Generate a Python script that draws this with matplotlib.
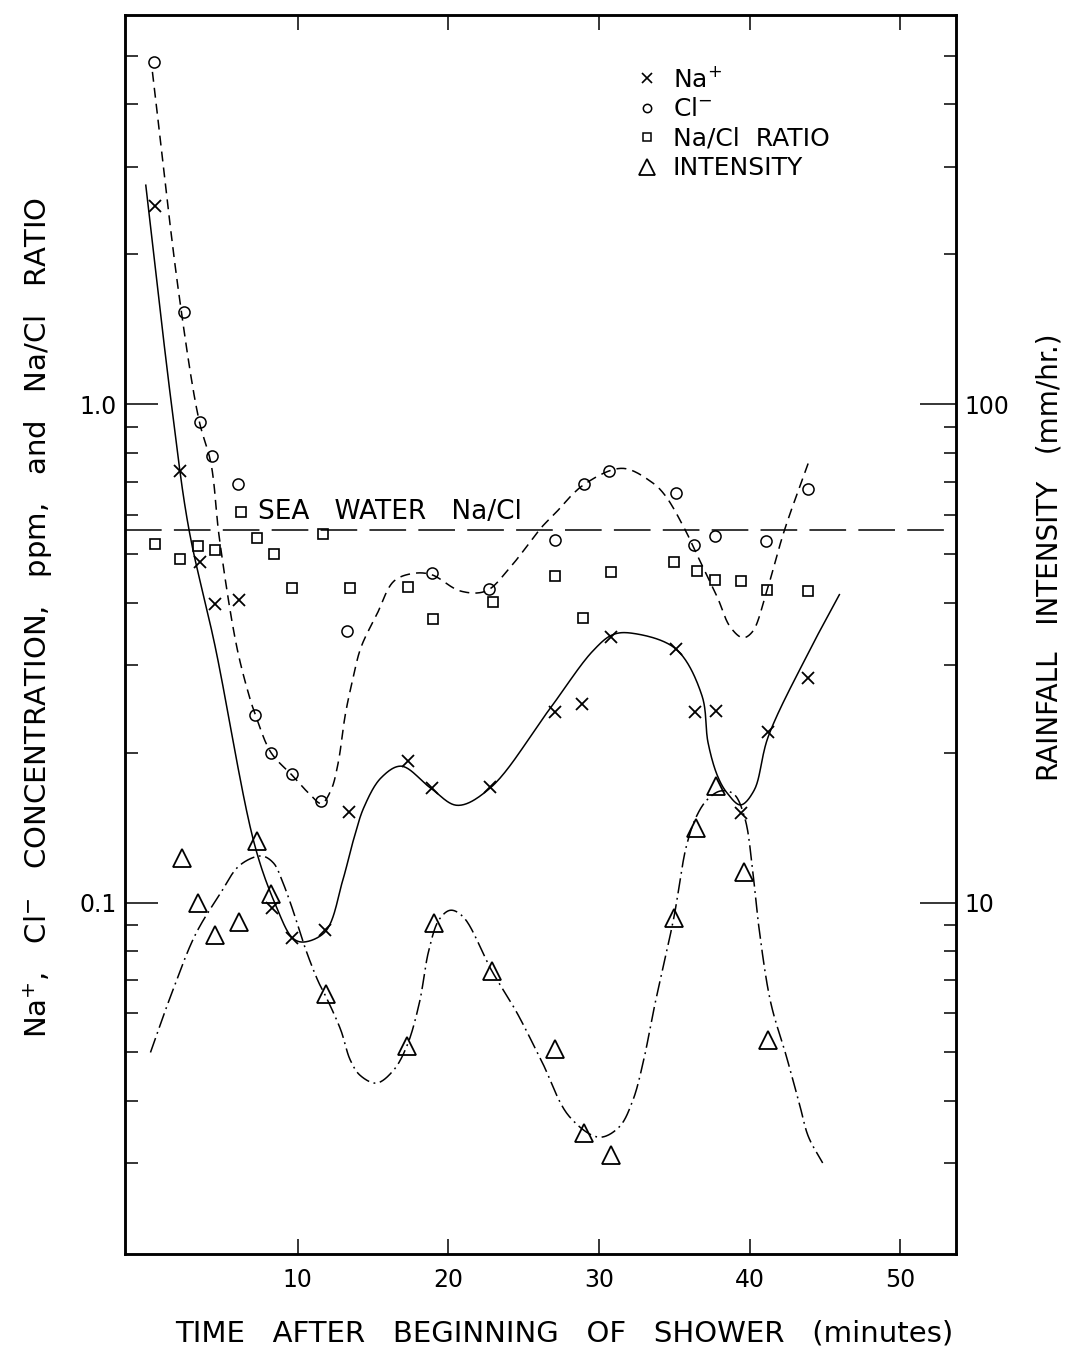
import numpy as np
import matplotlib
matplotlib.use("Agg")
import matplotlib.pyplot as plt
from matplotlib.lines import Line2D
from matplotlib.ticker import NullFormatter

# ---------------------------------------------------------------------------
# Measured samples (time after beginning of shower, minutes)
# ---------------------------------------------------------------------------
na_time = [0.52, 2.18, 3.53, 4.5, 6.14, 8.27, 9.63, 11.8, 13.4, 17.3, 18.9,
           22.8, 27.06, 28.9, 30.8, 35.1, 36.4, 37.76, 39.4, 41.2, 43.9]
na_ppm = [2.50, 0.736, 0.483, 0.398, 0.405, 0.0977, 0.0848, 0.0879, 0.152,
          0.192, 0.1695, 0.1706, 0.241, 0.250, 0.341, 0.323, 0.241, 0.242,
          0.151, 0.220, 0.282]

cl_time = [0.44, 2.45, 3.51, 4.32, 6.06, 7.2, 8.23, 9.64, 11.58, 13.3, 18.9,
           22.7, 27.05, 29.0, 30.7, 35.1, 36.3, 37.7, 41.1, 43.9]
cl_ppm = [4.87, 1.53, 0.921, 0.789, 0.691, 0.238, 0.200, 0.181, 0.160, 0.351,
          0.459, 0.426, 0.533, 0.691, 0.736, 0.665, 0.521, 0.545, 0.532, 0.675]

ratio_time = [0.52, 2.18, 3.39, 4.49, 6.25, 7.27, 8.46, 9.6, 11.69, 13.5, 17.3,
              19.0, 23.0, 27.06, 28.97, 30.8, 34.99, 36.5, 37.7, 39.46, 41.15,
              43.85]
ratio_value = [0.525, 0.490, 0.520, 0.509, 0.608, 0.540, 0.500, 0.428, 0.548,
               0.428, 0.430, 0.370, 0.402, 0.453, 0.373, 0.461, 0.482, 0.463,
               0.445, 0.441, 0.424, 0.423]

rain_time = [2.35, 3.41, 4.5, 6.1, 7.3, 8.24, 11.9, 17.26, 19.04, 22.9, 27.1,
             29.0, 30.8, 34.96, 36.45, 37.75, 39.6, 41.2]
rain_mmhr = [12.3, 10.0, 8.62, 9.15, 13.3, 10.4, 6.54, 5.16, 9.1, 7.28, 5.07,
             3.44, 3.12, 9.29, 14.1, 17.1, 11.5, 5.29]

SEA_WATER_RATIO = 0.56

# ---------------------------------------------------------------------------
# Hand-fitted trend curves (knots along each smooth curve)
# ---------------------------------------------------------------------------
na_fit_t = [-0.08, 1.63, 2.77, 4.51, 7.16, 8.56, 9.66, 10.38, 11.85, 13.0,
            13.7, 14.4, 15.54, 16.88, 18.84, 20.6, 22.8, 26.66, 29.6, 30.93,
            32.26, 35.1, 36.84, 37.24, 37.87, 38.5, 39.4, 40.3, 41.23, 43.85,
            45.96]
na_fit_v = [2.754, 0.997, 0.564, 0.328, 0.130, 0.0985, 0.0849, 0.0833, 0.0875,
            0.111, 0.1334, 0.1553, 0.178, 0.1878, 0.1696, 0.1567, 0.170, 0.243,
            0.32, 0.345, 0.347, 0.323, 0.26, 0.2095, 0.1795, 0.166, 0.157,
            0.168, 0.215, 0.315, 0.415]

cl_fit_t = [0.36, 2.13, 3.45, 4.25, 4.8, 5.94, 6.78, 7.2, 8.23, 9.64, 10.8,
            11.58, 12.21, 12.68, 13.17, 13.64, 14.2, 15.26, 16.4, 17.73, 18.9,
            20.8, 22.5, 24.15, 26.2, 27.0, 29.0, 31.55, 33.5, 34.4, 35.7,
            36.55, 37.83, 38.7, 39.55, 40.2, 41.15, 42.3, 43.9]
cl_fit_v = [4.65, 1.655, 0.93, 0.76, 0.54, 0.328, 0.260, 0.238, 0.200, 0.180,
            0.165, 0.158, 0.168, 0.190, 0.239, 0.279, 0.325, 0.379, 0.442,
            0.458, 0.455, 0.422, 0.422, 0.4726, 0.567, 0.60, 0.69, 0.744,
            0.698, 0.656, 0.5615, 0.496, 0.412, 0.358, 0.34, 0.35, 0.423,
            0.5575, 0.763]

rain_fit_t = [0.23, 1.62, 3.22, 4.81, 6.16, 7.6, 8.4, 9.0, 9.66, 10.5, 11.36,
              11.9, 12.86, 13.49, 14.14, 15.23, 16.35, 17.26, 18.08, 18.7,
              19.4, 20.15, 21.0, 22.9, 24.5, 26.2, 28.03, 30.0, 31.33, 32.24,
              32.95, 33.66, 34.96, 35.81, 36.5, 37.2, 38.08, 38.96, 39.7, 40.2,
              40.6, 41.4, 42.45, 43.3, 43.9, 44.85]
rain_fit_v = [5.0, 6.55, 8.63, 10.36, 11.88, 12.4, 12.0, 11.0, 9.7, 8.1, 6.95,
              6.45, 5.55, 4.83, 4.5, 4.34, 4.6, 5.16, 6.29, 8.0, 9.25, 9.65,
              9.35, 7.28, 6.05, 4.8, 3.72, 3.38, 3.54, 4.0, 4.8, 6.14, 9.29,
              13.0, 14.95, 16.1, 16.75, 16.5, 14.7, 11.6, 9.0, 6.3, 4.9, 3.95,
              3.39, 3.0]

# axis ranges
T_RANGE = (-1.43, 53.7)
CONC_RANGE = (0.0197, 6.05)
RAIN_RANGE = (1.97, 605.0)


def smooth_log_curve(t, v, per_segment=24, alpha=0.5):
    """Centripetal Catmull-Rom spline through knots, evaluated in (t, log v)."""
    sx, sy = 15.0, 500.0  # comparable screen-like scaling of both directions
    P = np.column_stack([np.asarray(t, float) * sx,
                         np.log10(np.asarray(v, float)) * sy])
    P = np.vstack([2 * P[0] - P[1], P, 2 * P[-1] - P[-2]])
    pieces = []
    for i in range(1, len(P) - 2):
        p0, p1, p2, p3 = P[i - 1], P[i], P[i + 1], P[i + 2]
        t0 = 0.0
        t1 = t0 + np.linalg.norm(p1 - p0) ** alpha
        t2 = t1 + np.linalg.norm(p2 - p1) ** alpha
        t3 = t2 + np.linalg.norm(p3 - p2) ** alpha
        s = np.linspace(t1, t2, per_segment, endpoint=False)[:, None]
        a1 = (t1 - s) / (t1 - t0) * p0 + (s - t0) / (t1 - t0) * p1
        a2 = (t2 - s) / (t2 - t1) * p1 + (s - t1) / (t2 - t1) * p2
        a3 = (t3 - s) / (t3 - t2) * p2 + (s - t2) / (t3 - t2) * p3
        b1 = (t2 - s) / (t2 - t0) * a1 + (s - t0) / (t2 - t0) * a2
        b2 = (t3 - s) / (t3 - t1) * a2 + (s - t1) / (t3 - t1) * a3
        pieces.append((t2 - s) / (t2 - t1) * b1 + (s - t1) / (t2 - t1) * b2)
    pieces.append(P[-2][None, :])
    C = np.vstack(pieces)
    return C[:, 0] / sx, 10 ** (C[:, 1] / sy)


plt.rcParams['font.family'] = ['DejaVu Sans']
plt.rcParams['mathtext.fontset'] = 'dejavusans'

fig = plt.figure(figsize=(10.75, 13.58), dpi=100)
ax = fig.add_axes([0.1167, 0.0766, 0.7726, 0.9124])
ax2 = ax.twinx()

ink = 'black'
lw_curve = 1.1

# --- concentration curves -------------------------------------------------
tx, vy = smooth_log_curve(na_fit_t, na_fit_v)
ax.plot(tx, vy, color=ink, lw=lw_curve, ls='-')

tx, vy = smooth_log_curve(cl_fit_t, cl_fit_v)
ax.plot(tx, vy, color=ink, lw=lw_curve, ls=(0, (6.5, 4.0)))

ax.axhline(SEA_WATER_RATIO, color=ink, lw=lw_curve, ls=(0, (24, 8)))
ax.text(7.4, 0.588, 'SEA   WATER   Na/Cl', fontsize=19, color=ink,
        ha='left', va='baseline')

# --- concentration samples ------------------------------------------------
ax.plot(na_time, na_ppm, ls='none', marker='x', ms=8, mew=1.3, color=ink)
ax.plot(cl_time, cl_ppm, ls='none', marker='o', ms=8, mew=1.1, mfc='none',
        mec=ink)
ax.plot(ratio_time, ratio_value, ls='none', marker='s', ms=7, mew=1.2,
        mfc='none', mec=ink)

# --- rainfall intensity -----------------------------------------------------
tx, vy = smooth_log_curve(rain_fit_t, rain_fit_v)
ax2.plot(tx, vy, color=ink, lw=lw_curve, ls=(0, (10, 3, 1.2, 3)))
ax2.plot(rain_time, rain_mmhr, ls='none', marker='^', ms=13, mew=1.3,
         mfc='none', mec=ink)

# --- scales and ticks -------------------------------------------------------
ax.set_xlim(*T_RANGE)
ax.set_yscale('log')
ax.set_ylim(*CONC_RANGE)
ax2.set_yscale('log')
ax2.set_ylim(*RAIN_RANGE)

ax.set_xticks([10, 20, 30, 40, 50], labels=['10', '20', '30', '40', '50'])
ax.set_yticks([0.1, 1.0], labels=['0.1', '1.0'])
ax.set_yticks([0.03, 0.04, 0.05, 0.06, 0.07, 0.08, 0.09,
               0.2, 0.3, 0.4, 0.5, 0.6, 0.7, 0.8, 0.9,
               2, 3, 4, 5], minor=True)
ax.yaxis.set_minor_formatter(NullFormatter())

ax2.set_yticks([10, 100], labels=['10', '100'])
ax2.set_yticks([3, 4, 5, 6, 7, 8, 9, 20, 30, 40, 50, 60, 70, 80, 90,
                200, 300, 400, 500], minor=True)
ax2.yaxis.set_minor_formatter(NullFormatter())

ax.tick_params(axis='x', which='major', direction='in', top=True, bottom=True,
               length=11, width=1.1, labelsize=17, pad=10, colors=ink)
ax.tick_params(axis='x', which='minor', bottom=False, top=False)
ax.tick_params(axis='y', which='major', direction='in', left=True, right=False,
               length=24, width=1.1, labelsize=17, pad=6)
ax.tick_params(axis='y', which='minor', direction='in', left=True, right=False,
               length=9, width=1.1)
ax2.tick_params(axis='y', which='major', direction='in', right=True,
                length=26, width=1.1, labelsize=17, pad=6)
ax2.tick_params(axis='y', which='minor', direction='in', right=True,
                length=9, width=1.1)

for a in (ax, ax2):
    for sp in a.spines.values():
        sp.set_linewidth(1.8)
        sp.set_color(ink)

# --- legend -----------------------------------------------------------------
handles = [
    Line2D([], [], ls='none', marker='x', ms=7, mew=1.2, color=ink,
           label=r'Na$^{+}$'),
    Line2D([], [], ls='none', marker='o', ms=6, mew=1.1, mfc='none', mec=ink,
           label=r'Cl$^{-}$'),
    Line2D([], [], ls='none', marker='s', ms=6, mew=1.1, mfc='none', mec=ink,
           label='Na/Cl  RATIO'),
    Line2D([], [], ls='none', marker='^', ms=11, mew=1.3, mfc='none', mec=ink,
           label='INTENSITY'),
]
ax.legend(handles=handles, loc='upper left', bbox_to_anchor=(0.614, 0.958),
          frameon=False, fontsize=18, handlelength=0.9, handletextpad=0.6,
          labelspacing=0.22, borderpad=0.0, borderaxespad=0.0)

# --- axis titles ------------------------------------------------------------
fig.text(0.5247, 0.0184, 'TIME   AFTER   BEGINNING   OF   SHOWER   (minutes)',
         ha='center', va='center', fontsize=21, color=ink)
fig.text(0.0353, 0.5457,
         r'Na$^{+}$,   Cl$^{-}$   CONCENTRATION,   ppm,   and   Na/Cl   RATIO',
         rotation=90, ha='center', va='center', fontsize=21, color=ink)
fig.text(0.9767, 0.590, 'RAINFALL   INTENSITY   (mm/hr.)', rotation=90,
         ha='center', va='center', fontsize=20, color=ink)

fig.savefig('out.png', dpi=100, facecolor='white')
